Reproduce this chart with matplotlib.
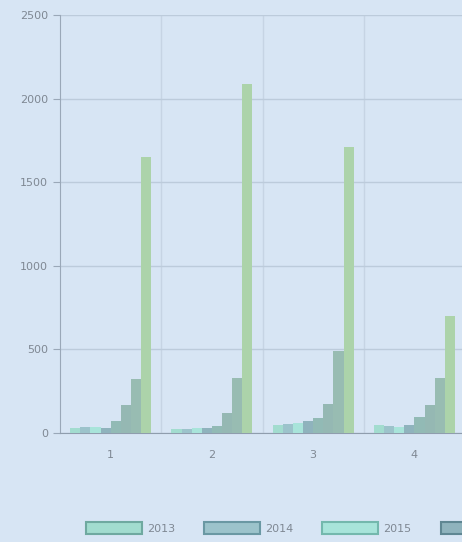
import numpy as np
import matplotlib
matplotlib.use('Agg')
import matplotlib.pyplot as plt

# data
cats = ['1', '2', '3', '4']
years = ['2013', '2014', '2015', '2016', '2017', '2018', '2019', '2020']
v2013 = [30, 25, 50, 50]
v2014 = [35, 25, 55, 40]
v2015 = [35, 30, 60, 35]
v2016 = [30, 30, 70, 45]
v2017 = [70, 40, 90, 95]
v2018 = [170, 120, 175, 170]
v2019 = [320, 330, 490, 330]
v2020 = [1650, 2090, 1710, 700]
series = [v2013, v2014, v2015, v2016, v2017, v2018, v2019, v2020]

fills = ['#a2dccf', '#9cc3cb', '#a8e4da', '#8fb3bd', '#92bab5', '#95b8b3', '#98bcb2', '#acd3aa']
edges = ['#6fa9a0', '#6a98a3', '#74b8ad', '#5f8793', '#6a948f', '#6d918c', '#6f968c', '#80ad7f']

bg = '#d7e5f4'
fig = plt.figure(figsize=(4.62, 5.42), dpi=100, facecolor=bg)
ax = fig.add_axes([60/462, 1-433/542, 1-60/462, (433-15)/542], facecolor=bg)

x = np.arange(1, len(cats)+1)
n = len(series)
w = 0.8 / n
for i, vals in enumerate(series):
    ax.bar(x - 0.4 + w*(i+0.5), vals, width=w, color=fills[i],
           edgecolor='none', label=years[i], zorder=3)

ax.set_xlim(0.5, 4.47)
ax.set_ylim(0, 2500)
ax.set_yticks(np.arange(0, 2501, 500))
ax.set_xticks(x)
ax.set_xticklabels(cats)
ax.grid(axis='y', color='#bccbdb', linewidth=1, zorder=0)
for b in [1.5, 2.5, 3.5]:
    ax.axvline(b, color='#c6d4e4', linewidth=1, zorder=0)

for s in ['top', 'right']:
    ax.spines[s].set_visible(False)
ax.spines['left'].set_color('#9aa8b8')
ax.spines['bottom'].set_color('#8f9dad')
ax.tick_params(axis='y', colors='#9aa8b8', labelcolor='#7f8893', labelsize=8, length=5)
ax.tick_params(axis='x', colors='#9aa8b8', labelcolor='#7f8893', labelsize=8, length=0, pad=12)

# only the first legend entries fit in the cropped view
nleg = 4
handles = [plt.Rectangle((0, 0), 1, 1, facecolor=fills[i], edgecolor=edges[i], linewidth=1.5)
           for i in range(nleg)]
fig.legend(handles, years[:nleg], loc='center left', bbox_to_anchor=(86/462, 1-528/542),
           ncol=nleg, frameon=False, fontsize=8, labelcolor='#7f8893',
           handlelength=5.0, handleheight=1.3, handletextpad=0.5,
           columnspacing=2.6, borderpad=0, borderaxespad=0)

fig.savefig('out.png', dpi=100, facecolor=bg)
